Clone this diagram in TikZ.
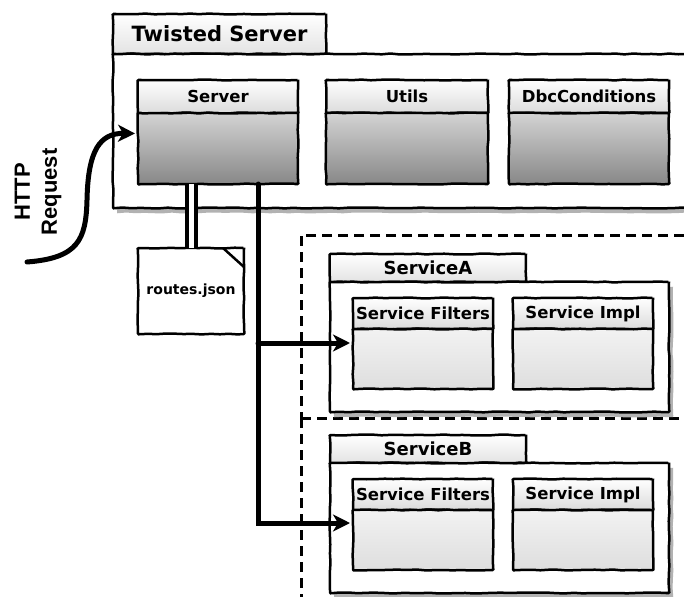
\documentclass[tikz,border=0pt]{standalone}
\usepackage{fontspec}
\setmainfont{DejaVu Sans}
\newfontfamily\reqfont{Liberation Sans}
\usepackage{tikz}
\usetikzlibrary{positioning,calc,shadows,arrows.meta,decorations.pathmorphing}
\pgfmathsetseed{11}
\tikzstyle{sketch}=[decorate, decoration={random steps, segment length=9pt, amplitude=0.5pt}, rounded corners=0.6pt]
\tikzstyle{box}=[draw, line width=2.5pt, sketch, inner sep=0pt, outer sep=0pt, anchor=north west]
\tikzstyle{tabbox}=[box, top color=white, bottom color=black!11]
\tikzstyle{pkgbox}=[box, fill=white, drop shadow={shadow xshift=4pt, shadow yshift=-5pt, fill=black!30, opacity=1}]
\tikzstyle{headbox}=[box, top color=white, bottom color=black!14]
\tikzstyle{darkbody}=[box, top color=black!17, bottom color=black!47]
\tikzstyle{lightbody}=[box, top color=black!5, bottom color=black!13]
\tikzstyle{dashline}=[line width=3pt, dash pattern=on 10pt off 6pt]
\tikzstyle{region}=[dashline, inner sep=0pt, outer sep=0pt, anchor=north west]
\tikzstyle{bus}=[line width=5pt, line cap=round]
\tikzstyle{arr}=[-{Stealth[length=17pt, width=17pt, inset=5pt]}]
\tikzstyle{cable}=[double distance=5pt, line width=4pt]
\newcommand{\tabfont}{\bfseries\fontsize{21}{24}\selectfont}
\newcommand{\pkgfont}{\bfseries\fontsize{18}{21}\selectfont}
\newcommand{\clsfont}{\bfseries\fontsize{16.5}{19}\selectfont}
\newcommand{\docfont}{\bfseries\fontsize{14}{16}\selectfont}
\newcommand{\classbox}[8]{
\node[headbox, minimum width=#3pt, minimum height=#4pt, font=#7] (#1h) at #2 {#8};
\node[#6, minimum width=#3pt, minimum height=#5pt, below=0pt of #1h] (#1b) {};
}

\begin{document}
\begin{tikzpicture}[x=1pt, y=-1pt]
\useasboundingbox (0,0) rectangle (684,596);
\clip (0,0) rectangle (684,596);
% dashed service areas
\node[region, draw, minimum width=420pt, minimum height=183pt] (regA) at (301,235) {};
\node[region, minimum width=420pt, minimum height=220pt] (regB) at (301,418) {};
\draw[dashline] (regB.north west) -- (regB.south west);
% twisted server
\node[tabbox, minimum width=213pt, minimum height=40pt, font=\tabfont] (tstab) at (113,14) {Twisted Server};
\node[pkgbox, minimum width=620pt, minimum height=154pt] (tsbox) at (113,54) {};
\classbox{srv}{(138,80)}{160}{33}{71}{darkbody}{\clsfont}{Server}
\classbox{utl}{(326,80)}{162}{33}{71}{darkbody}{\clsfont}{Utils}
\classbox{dbc}{(509,80)}{160}{33}{71}{darkbody}{\clsfont}{DbcConditions}
% services
\foreach \s/\dy in {A/0,B/181} {
\node[tabbox, minimum width=196pt, minimum height=28pt, font=\pkgfont] (tab\s) at (330,254+\dy) {Service\s};
\node[pkgbox, minimum width=339pt, minimum height=130pt] (pkg\s) at (330,282+\dy) {};
\classbox{f\s}{(353,298+\dy)}{140}{31}{60}{lightbody}{\clsfont}{Service Filters}
\classbox{i\s}{(513,298+\dy)}{140}{31}{60}{lightbody}{\clsfont}{Service Impl}
}
% routes file
\node[box, fill=white, minimum width=106pt, minimum height=86pt, font=\docfont] (routes) at (138,248) {routes.json};
\draw[line width=2.5pt] ($(routes.north east)+(-21,0)$) -- ($(routes.north east)+(0,19)$);
% connectors
\node[rotate=90, align=center, font=\reqfont\bfseries\fontsize{22}{27}\selectfont] (req) at (38,192) {HTTP\\Request};
\coordinate (reqin) at (27,262);
\coordinate (trunk) at ($(srvb.south west)+(120,0)$);
\coordinate (inA) at ($(fAb.west)+(-3,-16)$);
\coordinate (inB) at ($(fBb.west)+(-3,-17)$);
\draw[bus, arr] (reqin) .. controls (78,258) and (86,240) .. (87,200) .. controls (88,150) and (100,133) .. ($(srvb.west)+(-3,-15)$);
\draw[cable] ($(srvb.south west)+(53.5,0)$) -- ($(routes.north west)+(53.5,0)$);
\draw[bus, arr] (trunk) |- (inB);
\draw[bus, arr] (trunk |- inA) -- (inA);
\end{tikzpicture}
\end{document}
